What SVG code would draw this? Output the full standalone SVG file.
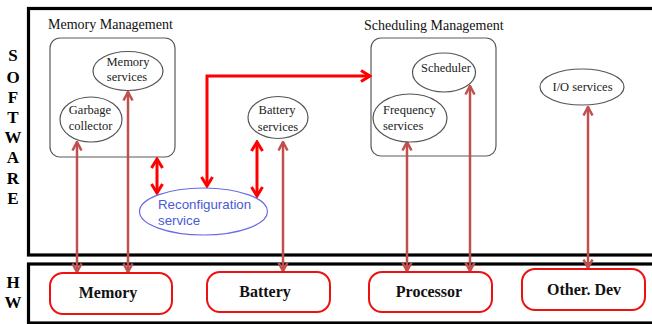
<svg xmlns="http://www.w3.org/2000/svg" width="652" height="324" viewBox="0 0 652 324">
<style>
.frame{fill:none;stroke:#000;stroke-width:3.2}
.side{font-family:"Liberation Serif",serif;font-weight:bold;font-size:17px;fill:#000;text-anchor:middle}
.grp{fill:none;stroke:#5a5a5a;stroke-width:1.2}
.grpl{font-family:"Liberation Serif",serif;font-size:14px;fill:#111}
.ell{fill:#fff;stroke:#555;stroke-width:1.2}
.el{font-family:"Liberation Serif",serif;font-size:12.5px;fill:#222;text-anchor:middle}
.hw{fill:#fff;stroke:#ee1111;stroke-width:2}
.hwl{font-family:"Liberation Serif",serif;font-weight:bold;font-size:16px;fill:#111;text-anchor:middle}
.rec{fill:#fff;stroke:#6a6ae8;stroke-width:1.2}
.recl{font-family:"Liberation Sans",Arial,sans-serif;font-size:13.3px;fill:#4a5ad4}
.br{fill:none;stroke:#c0504d;stroke-width:2.5;marker-start:url(#hb);marker-end:url(#hb)}
.rd{fill:none;stroke:#ff0000;stroke-width:3;marker-start:url(#hr);marker-end:url(#hr)}
</style>
<defs>
<marker id="hb" viewBox="0 0 12 12" refX="10.5" refY="6" markerWidth="12" markerHeight="12" markerUnits="userSpaceOnUse" orient="auto-start-reverse">
<path d="M2,1.5 L10.5,6 L2,10.5" fill="none" stroke="#c0504d" stroke-width="2.5"/>
</marker>
<marker id="hr" viewBox="0 0 14 14" refX="12" refY="7" markerWidth="14" markerHeight="14" markerUnits="userSpaceOnUse" orient="auto-start-reverse">
<path d="M3,1.5 L12,7 L3,12.5" fill="none" stroke="#ff0000" stroke-width="3"/>
</marker>
</defs>
<rect width="652" height="324" fill="#fff"/>

<g id="software-layer">
<rect class="frame" x="28.5" y="8.5" width="640" height="246.5"/>
<text class="side" x="13" y="61">S</text>
<text class="side" x="13" y="83">O</text>
<text class="side" x="13" y="103">F</text>
<text class="side" x="13" y="123">T</text>
<text class="side" x="13" y="143">W</text>
<text class="side" x="13" y="163">A</text>
<text class="side" x="13" y="184">R</text>
<text class="side" x="13" y="204">E</text>
</g>

<g id="hardware-layer">
<rect class="frame" x="28.5" y="264" width="640" height="59"/>
<text class="side" x="13" y="288">H</text>
<text class="side" x="13" y="308">W</text>
</g>

<g id="memory-management">
<rect class="grp" x="50" y="38" width="125" height="119" rx="10"/>
<text class="grpl" x="48" y="29">Memory Management</text>
</g>

<g id="scheduling-management">
<rect class="grp" x="371" y="38" width="125" height="118" rx="10"/>
<text class="grpl" x="364" y="30">Scheduling Management</text>
</g>

<g id="connectors">
<line class="br" x1="77" y1="142" x2="77" y2="272"/>
<line class="br" x1="128" y1="92" x2="128" y2="272"/>
<line class="br" x1="283" y1="142" x2="283" y2="271"/>
<line class="br" x1="407" y1="142" x2="407" y2="271"/>
<line class="br" x1="470" y1="86" x2="470" y2="271"/>
<line class="br" x1="588" y1="107" x2="588" y2="268"/>
<line class="rd" x1="157" y1="159" x2="157" y2="193"/>
<polyline class="rd" points="207,186 207,76 370,76"/>
<line class="rd" x1="257" y1="142" x2="257" y2="196"/>
</g>

<g id="memory-services">
<ellipse class="ell" cx="128" cy="71" rx="35" ry="19.5"/>
<text class="el" x="128" y="66">Memory</text>
<text class="el" x="127" y="81">services</text>
</g>

<g id="garbage-collector">
<ellipse class="ell" cx="91" cy="119.5" rx="31" ry="22.5"/>
<text class="el" x="90" y="114">Garbage</text>
<text class="el" x="90.5" y="130">collector</text>
</g>

<g id="battery-services">
<ellipse class="ell" cx="278" cy="117.5" rx="30" ry="21"/>
<text class="el" x="277" y="114">Battery</text>
<text class="el" x="278" y="131">services</text>
</g>

<g id="scheduler">
<ellipse class="ell" cx="444" cy="72.5" rx="31.5" ry="19.5"/>
<text class="el" x="446" y="72">Scheduler</text>
</g>

<g id="frequency-services">
<ellipse class="ell" cx="410" cy="118" rx="37" ry="24"/>
<text class="el" x="383" y="114" style="text-anchor:start">Frequency</text>
<text class="el" x="383" y="130" style="text-anchor:start">services</text>
</g>

<g id="io-services">
<ellipse class="ell" cx="582" cy="87" rx="42" ry="18"/>
<text class="el" x="582.5" y="91">I/O services</text>
</g>

<g id="reconfiguration-service">
<ellipse class="rec" cx="203.5" cy="211.5" rx="64" ry="23.5"/>
<text class="recl" x="158" y="209">Reconfiguration</text>
<text class="recl" x="158" y="225">service</text>
</g>

<g id="hw-memory">
<rect class="hw" x="50" y="273" width="122" height="41" rx="13"/>
<text class="hwl" x="108" y="298">Memory</text>
</g>

<g id="hw-battery">
<rect class="hw" x="207" y="272" width="123" height="40" rx="13"/>
<text class="hwl" x="265" y="297">Battery</text>
</g>

<g id="hw-processor">
<rect class="hw" x="369" y="272" width="123" height="40" rx="13"/>
<text class="hwl" x="429" y="297">Processor</text>
</g>

<g id="hw-other-dev">
<rect class="hw" x="522" y="269" width="123" height="41" rx="13"/>
<text class="hwl" x="584" y="295">Other. Dev</text>
</g>
</svg>
